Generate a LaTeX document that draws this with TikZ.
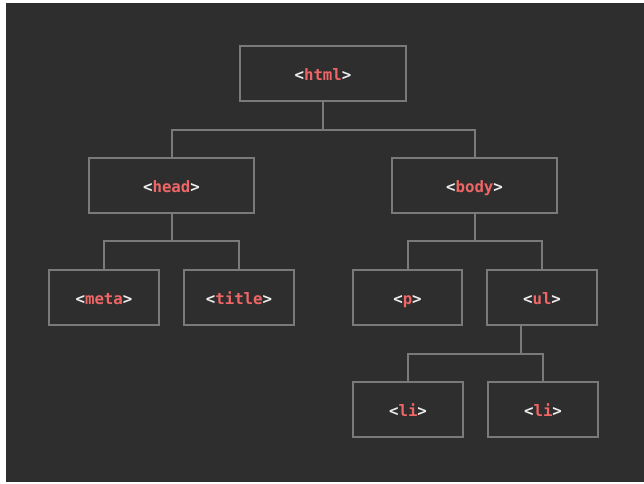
\documentclass[tikz,border=0pt]{standalone}
\usepackage{fontspec}
\newfontfamily\codefont{DejaVu Sans Mono}
\definecolor{bgc}{HTML}{2E2E2E}
\definecolor{edgec}{HTML}{7A7A7A}
\definecolor{tagc}{HTML}{F06666}
\definecolor{brc}{HTML}{EEEEEE}
\newcommand{\tagtext}[1]{\textcolor{brc}{<}\textcolor{tagc}{#1}\textcolor{brc}{>}}
\tikzset{
  tagbox/.style={draw=edgec, line width=1.5pt, fill=bgc, inner sep=0pt, text height=10.5pt, text depth=0pt, font=\codefont\bfseries\fontsize{11.8}{13}\selectfont},
  wide/.style={minimum width=124pt, minimum height=41pt},
  narrow/.style={minimum width=82pt, minimum height=41pt},
  link/.style={draw=edgec, line width=1.5pt}
}
\begin{document}
\begin{tikzpicture}[x=0.75pt, y=-0.75pt]
\useasboundingbox (0,0) rectangle (644,484);
\fill[white] (0,0) rectangle (644,484);
\fill[bgc] (6,3) rectangle (644,482);
\coordinate (j1) at (323,130);
\coordinate (j2) at (171.5,241);
\coordinate (j3) at (474.5,241);
\coordinate (j4) at (520.5,354);
\node[tagbox, wide] (html) at (323,73.5) {\tagtext{html}};
\node[tagbox, wide] (head) at (171.5,185.5) {\tagtext{head}};
\node[tagbox, wide] (body) at (474.5,185.5) {\tagtext{body}};
\node[tagbox, narrow] (meta) at (104,297.5) {\tagtext{meta}};
\node[tagbox, narrow] (title) at (239,297.5) {\tagtext{title}};
\node[tagbox, narrow] (p) at (407.5,297.5) {\tagtext{p}};
\node[tagbox, narrow] (ul) at (542,297.5) {\tagtext{ul}};
\node[tagbox, narrow] (li1) at (408,409.5) {\tagtext{li}};
\node[tagbox, narrow] (li2) at (543,409.5) {\tagtext{li}};
\draw[link] (html.south) -- (j1);
\draw[link] (head.north) |- (j1) -| (body.north);
\draw[link] (head.south) -- (j2);
\draw[link] (meta.north) |- (j2) -| (title.north);
\draw[link] (body.south) -- (j3);
\draw[link] (p.north) |- (j3) -| (ul.north);
\draw[link] (ul.south -| j4) -- (j4);
\draw[link] (li1.north) |- (j4) -| (li2.north);
\end{tikzpicture}
\end{document}
